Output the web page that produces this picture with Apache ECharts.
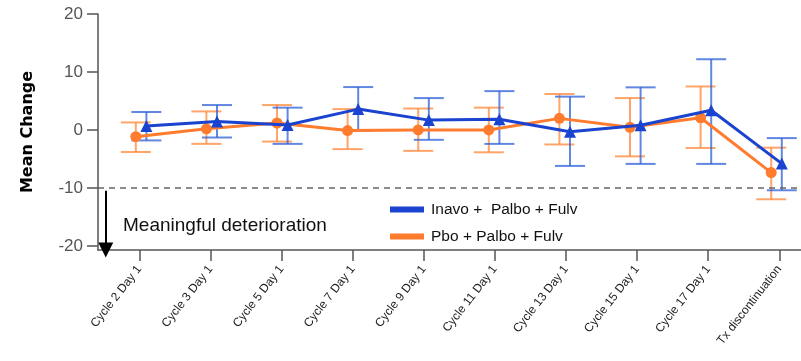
<!DOCTYPE html>
<html>
<head>
<meta charset="utf-8">
<script src="https://cdn.jsdelivr.net/npm/echarts@6/dist/echarts.min.js"></script>
<style>
html,body{margin:0;padding:0;background:#fff;}
#chart{width:801px;height:361px;}
</style>
</head>
<body>
<div id="chart"></div>
<script>
const categories = ['Cycle 2 Day 1','Cycle 3 Day 1','Cycle 5 Day 1','Cycle 7 Day 1','Cycle 9 Day 1','Cycle 11 Day 1','Cycle 13 Day 1','Cycle 15 Day 1','Cycle 17 Day 1','Tx discontinuation'];
const inavoMean = [0.7, 1.45, 0.85, 3.6, 1.7, 1.85, -0.3, 0.8, 3.4, -5.8];
const inavoLow  = [-1.8, -1.3, -2.4, -0.1, -1.7, -2.4, -6.2, -5.85, -5.85, -10.4];
const inavoHigh = [3.1, 4.3, 3.85, 7.4, 5.5, 6.7, 5.75, 7.35, 12.2, -1.4];
const pboMean = [-1.15, 0.2, 1.2, -0.1, 0.0, 0.0, 2.0, 0.45, 2.1, -7.35];
const pboLow  = [-3.8, -2.4, -2.0, -3.3, -3.6, -3.85, -2.5, -4.55, -3.1, -11.95];
const pboHigh = [1.3, 3.2, 4.3, 3.6, 3.7, 3.85, 6.2, 5.5, 7.5, -3.05];
const yTicks = [-20, -10, 0, 10, 20];
const threshold = -10;
const seriesNames = ['Inavo +  Palbo + Fulv', 'Pbo + Palbo + Fulv'];

const BLUE = '#1a44cf';
const ORANGE = '#ff7b2e';
const BLUE_ERR = 'rgba(45,95,215,0.75)';
const ORANGE_ERR = 'rgba(255,135,55,0.75)';
const dodge = 0.075;

const idx = categories.map((c, i) => i);
const inavoLine = idx.map(i => [i + dodge, inavoMean[i]]);
const pboLine = idx.map(i => [i - dodge, pboMean[i]]);
const inavoErr = idx.map(i => [i + dodge, inavoLow[i], inavoHigh[i]]);
const pboErr = idx.map(i => [i - dodge, pboLow[i], pboHigh[i]]);

function errRender(color) {
  return function (params, api) {
    const x = api.value(0);
    const a = api.coord([x, api.value(1)]);
    const b = api.coord([x, api.value(2)]);
    const hw = 15;
    const st = { stroke: color, lineWidth: 2 };
    return {
      type: 'group',
      children: [
        { type: 'line', shape: { x1: a[0], y1: a[1], x2: b[0], y2: b[1] }, style: st },
        { type: 'line', shape: { x1: a[0] - hw, y1: a[1], x2: a[0] + hw, y2: a[1] }, style: st },
        { type: 'line', shape: { x1: b[0] - hw, y1: b[1], x2: b[0] + hw, y2: b[1] }, style: st }
      ]
    };
  };
}

const chart = echarts.init(document.getElementById('chart'));
chart.setOption({
  animation: false,
  backgroundColor: '#fff',
  grid: { left: 98, right: 0, top: 14, bottom: 111, containLabel: false },
  legend: {
    data: seriesNames,
    orient: 'vertical',
    left: 385,
    top: 194,
    icon: 'rect',
    itemWidth: 34,
    itemHeight: 6,
    itemGap: 6,
    textStyle: { fontFamily: 'Liberation Sans, sans-serif', fontSize: 15.5, color: '#111', lineHeight: 21, padding: [0,0,0,2] }
  },
  xAxis: [
    {
      type: 'value', min: -0.581, max: 9.305,
      splitLine: { show: false },
      axisLine: { show: true, onZero: false, lineStyle: { color: '#555', width: 1.5 } },
      axisTick: { show: true, length: 11, customValues: idx, lineStyle: { color: '#555', width: 1.5 } },
      axisLabel: {
        customValues: idx, rotate: 52, margin: 17,
        formatter: v => categories[Math.round(v)],
        fontFamily: 'Liberation Sans, sans-serif', fontSize: 12, color: '#222'
      }
    },
    {
      type: 'value', min: -0.6105, max: 9.347, show: false, splitLine: { show: false }
    }
  ],
  yAxis: {
    type: 'value', min: -20.7, max: 20,
    name: 'Mean Change', nameLocation: 'middle', nameRotate: 90, nameGap: 62,
    nameTextStyle: { fontFamily: 'DejaVu Sans, sans-serif', fontWeight: 'bold', fontSize: 16, color: '#000' },
    splitLine: { show: false },
    axisLine: { show: true, onZero: false, lineStyle: { color: '#555', width: 1.5 } },
    axisTick: { show: true, length: 11, customValues: yTicks, lineStyle: { color: '#555', width: 1.5 } },
    axisLabel: { customValues: yTicks, margin: 15, fontFamily: 'Liberation Sans, sans-serif', fontSize: 17, color: '#555' }
  },
  graphic: [
    { type: 'text', left: 123, top: 216, style: { text: 'Meaningful deterioration', fontFamily: 'Liberation Sans, sans-serif', fontSize: 19, fill: '#111' } }
  ],
  series: [
    {
      type: 'line', xAxisIndex: 0, data: [], silent: true,
      markLine: {
        silent: true, animation: false,
        symbol: ['none', 'none'],
        label: { show: false },
        data: [
          { yAxis: threshold, lineStyle: { color: '#666', type: [6, 5], width: 1.5 } },
          [
            { coord: [-0.472, -10.47], lineStyle: { color: '#000', type: 'solid', width: 2 } },
            { coord: [-0.472, -20.7], symbol: 'triangle', symbolSize: [15, 15] }
          ]
        ]
      }
    },
    {
      name: 'pboErr', type: 'custom', xAxisIndex: 1, renderItem: errRender(ORANGE_ERR),
      data: pboErr, encode: { x: 0, y: [1, 2] }, z: 1, silent: true
    },
    {
      name: 'inavoErr', type: 'custom', xAxisIndex: 1, renderItem: errRender(BLUE_ERR),
      data: inavoErr, encode: { x: 0, y: [1, 2] }, z: 1, silent: true
    },
    {
      name: seriesNames[1], type: 'line', xAxisIndex: 1, data: pboLine,
      symbol: 'circle', symbolSize: 11, z: 3,
      itemStyle: { color: ORANGE }, lineStyle: { color: ORANGE, width: 3 }
    },
    {
      name: seriesNames[0], type: 'line', xAxisIndex: 1, data: inavoLine,
      symbol: 'triangle', symbolSize: 12, z: 4,
      itemStyle: { color: BLUE }, lineStyle: { color: BLUE, width: 3 }
    }
  ]
});
</script>
</body>
</html>
